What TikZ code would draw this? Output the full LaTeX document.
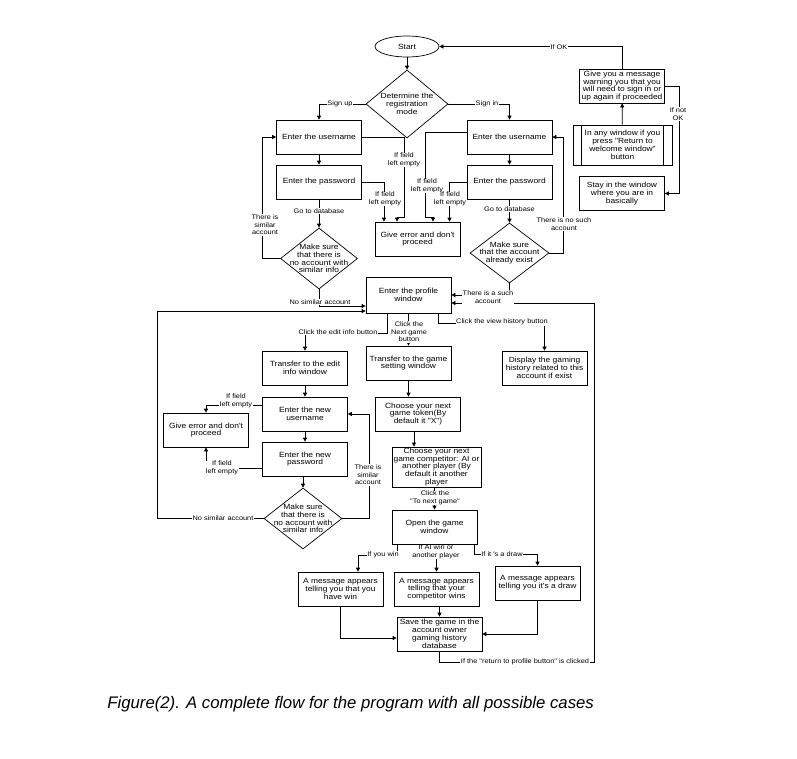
\documentclass[tikz,border=0pt]{standalone}
\usepackage{fontspec}
\setmainfont{Liberation Sans}
\newfontfamily\dfont{Liberation Sans}[FakeStretch=1.12]
\usetikzlibrary{arrows.meta,shapes.geometric,calc}
\begin{document}
\begin{tikzpicture}[x=1pt,y=-1pt,line width=0.7pt,
  box/.style={draw, rectangle, minimum width=85pt, minimum height=34pt, inner sep=1pt, align=center, font=\dfont\fontsize{7.5}{7.8}\selectfont},
  dshape/.style={draw, diamond, inner sep=0pt},
  dtext/.style={align=center, inner sep=0pt, font=\dfont\fontsize{7.5}{7.8}\selectfont},
  lab/.style={fill=white, inner sep=0.6pt, align=center, font=\dfont\fontsize{6.6}{7.5}\selectfont},
  arr/.style={-{Triangle[length=4pt,width=4pt]}}]
\path[use as bounding box] (0,0) rectangle (797,758);

% ---------- nodes ----------
\node[draw, ellipse, minimum width=64pt, minimum height=21pt, inner sep=0pt, font=\dfont\fontsize{7.5}{7.8}\selectfont] (start) at (407,46.5) {Start};
\node[dshape, minimum width=82pt, minimum height=68pt] (dec) at (407,104) {};
\node[dtext] (dect) at (407,104) {Determine the\\registration\\mode};

\node[box] (u1) at (319,137) {Enter the username};
\node[box] (p1) at (319,182) {Enter the password};
\node[dshape, minimum width=77pt, minimum height=61pt] (d1) at (319,258.5) {};
\node[dtext] (d1t) at (319,258.5) {Make sure\\that there is\\no account with\\similar info};

\node[box] (u2) at (509.5,137) {Enter the username};
\node[box] (p2) at (509.5,182) {Enter the password};
\node[dshape, minimum width=79pt, minimum height=60pt] (d2) at (509.5,253) {};
\node[dtext] (d2t) at (509.5,253) {Make sure\\that the account\\already exist};

\node[box] (err) at (417.5,239) {Give error and don't\\proceed};

\node[box] (msg) at (622,86) {Give you a message\\warning you that you\\will need to sign in or\\up again if proceeded};
\node[box, minimum width=99pt, minimum height=40pt] (ret) at (622.5,145) {In any window if you\\press "Return to\\welcome window"\\button};
\draw ([xshift=9pt]ret.north west) -- ([xshift=9pt]ret.south west);
\draw ([xshift=-9pt]ret.north east) -- ([xshift=-9pt]ret.south east);
\node[box] (stay) at (622,193.5) {Stay in the window\\where you are in\\basically};

\node[box, minimum height=36pt] (prof) at (408.5,295) {Enter the profile\\window};
\node[box] (disp) at (544.5,368) {Display the gaming\\history related to this\\account if exist};
\node[box] (tg) at (408.5,363) {Transfer to the game\\setting window};
\node[box] (te) at (305,368) {Transfer to the edit\\info window};
\node[box] (nu) at (305,414) {Enter the new\\username};
\node[box] (np) at (305,459) {Enter the new\\password};
\node[box] (err2) at (206,430) {Give error and don't\\proceed};
\node[dshape, minimum width=78pt, minimum height=61pt] (d3) at (303,518.5) {};
\node[dtext] (d3t) at (303,518.5) {Make sure\\that there is\\no account with\\similar info};

\node[box] (tok) at (418,414) {Choose your next\\game token(By\\default it "X")};
\node[box, minimum width=89pt, minimum height=40pt] (comp) at (436.5,467) {Choose your next\\game competitor: AI or\\another player (By\\default it another\\player};
\node[box] (gw) at (434.5,527) {Open the game\\window};
\node[box] (win) at (340.5,589) {A message appears\\telling you that you\\have win};
\node[box] (lose) at (436.5,589) {A message appears\\telling that your\\competitor wins};
\node[box] (dr) at (537.5,583) {A message appears\\telling you it's a draw};
\node[box] (save) at (439.5,634) {Save the game in the\\account owner\\gaming history\\database};

% ---------- connectors ----------
\draw[arr] (start) -- (dec);
\draw[arr] (dec.west) -| (u1.north);
\draw[arr] (dec.east) -| (u2.north);
\draw[arr] (u1) -- (p1);
\draw[arr] (p1) -- (d1);
\draw[arr] (d1.west) -- ++(-18,0) |- (u1.west);
\draw[arr] (d1.south) |- ($(prof.west)+(0,11)$);
\draw[arr] (u2) -- (p2);
\draw[arr] (p2) -- (d2);
\draw[arr] (d2.east) -- ++(14,0) |- (u2.east);
\draw[arr] (d2.south) |- (prof.east);

\draw[arr] (u1.east) -| (404,217) -| ($(err.north)+(-20.5,0)$);
\draw[arr] (p1.east) -| ($(err.north)+(-33.5,0)$);
\draw[arr] ([yshift=5pt]u2.west) -| (425,217) -| ($(err.north)+(15.5,0)$);
\draw[arr] (p2.west) -| ($(err.north)+(32,0)$);

\draw[arr] (ret) -- (msg);
\draw[arr] (msg.north) |- (start.east);
\draw[arr] (msg.east) -- ++(14,0) |- (stay.east);

\draw[arr] ($(prof.south)+(-21.5,0)$) -- ++(0,20) -| (te.north);
\draw[arr] (prof.south) -- (tg.north);
\draw[arr] ($(prof.south)+(29.5,0)$) -- ++(0,10) -| (disp.north);

\draw[arr] (te) -- (nu);
\draw[arr] (nu) -- (np);
\draw[arr] ([yshift=9pt]nu.west) -| (err2.north);
\draw[arr] ([yshift=-9pt]np.west) -| (err2.south);
\draw[arr] (d3.north |- np.south) -- (d3.north);
\draw[arr] (d3.east) -- ++(27,0) |- (nu.east);
\draw[arr] (d3.west) -- (157,518.5) |- ($(prof.west)+(0,16)$);

\draw[arr] (tg.south) -- (tg.south |- tok.north);
\coordinate (tk) at ($(tok.south)+(-4,0)$);
\draw[arr] (tk) -- (tk |- comp.north);
\draw[arr] (comp.south -| gw.north) -- (gw.north);

\coordinate (gwa) at ($(gw.south west)+(6,0)$);
\draw[arr] (gwa) -- ++(0,11) -| ($(win.north)+(17.5,0)$);
\draw[arr] (lose.north |- gw.south) -- (lose.north);
\coordinate (gwb) at ($(gw.south east)+(-3,0)$);
\draw[arr] (gwb) -- ++(0,10) -| (dr.north);

\draw[arr] (save.north |- lose.south) -- (save.north);
\draw[arr] (win.south) |- ($(save.west)+(0,4)$);
\draw[arr] (dr.south) |- (save.east);
\draw[arr] (save.south) -- ++(0,11) -| ($(prof.east)+(143,8)$) -- ($(prof.east)+(0,8)$);

% ---------- labels ----------
\node[lab] (l1) at (340,104) {Sign up};
\node[lab] (l2) at (487,104) {Sign in};
\node[lab] (l3) at (559,47) {If OK};
\node[lab] (l4) at (678,114) {If not\\OK};
\node[lab] (l5) at (404,160) {If field\\left empty};
\node[lab] (l6) at (385,199) {If field\\left empty};
\node[lab] (l7) at (427,186) {If field\\left empty};
\node[lab] (l8) at (450,199) {If field\\left empty};
\node[lab] (l9) at (319,211) {Go to database};
\node[lab] (l10) at (509.5,209) {Go to database};
\node[lab] (l11) at (265,225) {There is\\similar\\account};
\node[lab] (l12) at (564,224) {There is no such\\account};
\node[lab] (l13) at (320,302) {No similar account};
\node[lab] (l14) at (488,297) {There is a such\\account};
\node[lab] (l15) at (338,332) {Click the edit info button};
\node[lab] (l16) at (409,332) {Click the\\Next game\\button};
\node[lab] (l17) at (502,322) {Click the view history button};
\node[lab] (l18) at (236,401) {If field\\left empty};
\node[lab] (l19) at (222,468) {If field\\left empty};
\node[lab] (l20) at (368,475) {There is\\similar\\account};
\node[lab] (l21) at (223,518.5) {No similar account};
\node[lab] (l22) at (435,498) {Click the\\"To next game"};
\node[lab] (l23) at (383,555) {If you win};
\node[lab] (l24) at (436,552) {If AI win or\\another player};
\node[lab] (l25) at (502,554) {If it 's a draw};
\node[lab] (l26) at (525,662) {If the "return to profile button" is clicked};

% ---------- caption ----------
\node[anchor=base west, inner sep=0pt, font=\itshape\fontsize{16.75}{20}\selectfont] (cap) at (107,708) {Figure(2). A complete flow for the program with all possible cases};
\end{tikzpicture}
\end{document}
